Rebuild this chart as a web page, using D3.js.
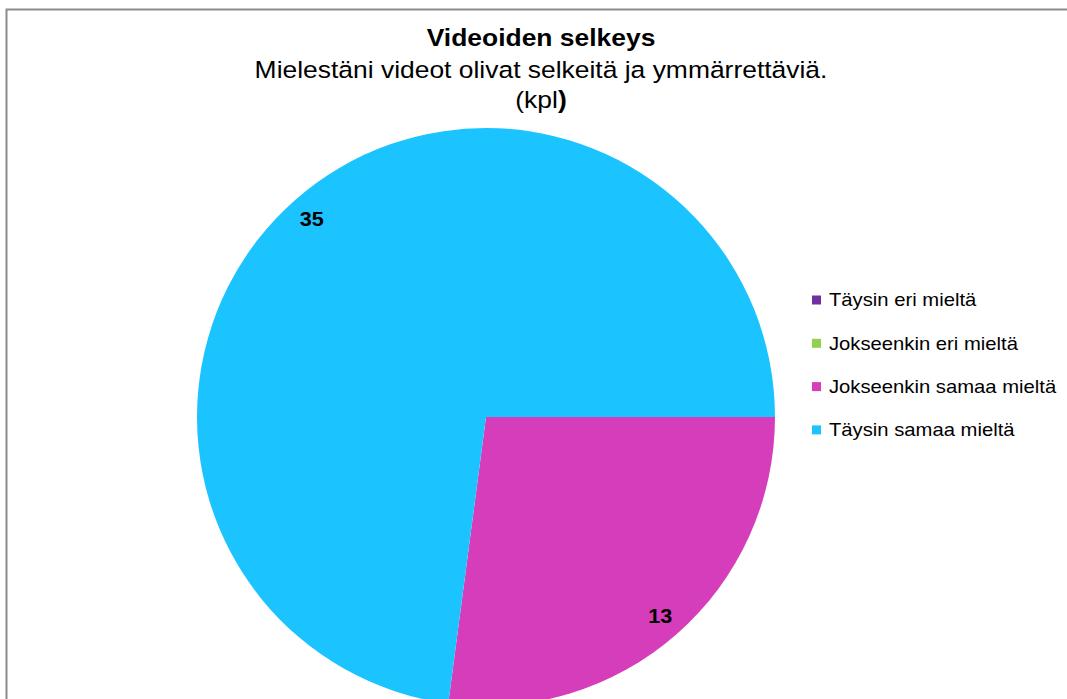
<!DOCTYPE html>
<html>
<head>
<meta charset="utf-8">
<script src="https://cdn.jsdelivr.net/npm/d3@7"></script>
<style>
  body { margin: 0; background: #fff; }
  svg { display: block; font-family: "Liberation Sans", Arial, sans-serif; }
</style>
</head>
<body>
<div id="chart"></div>
<script>
const categories = ['Täysin eri mieltä', 'Jokseenkin eri mieltä', 'Jokseenkin samaa mieltä', 'Täysin samaa mieltä'];
const values = [0, 0, 13, 35];
const colors = ['#7030A0', '#92D050', '#D63DBA', '#1CC4FF'];

const width = 1067;
const height = 699;
const stretch = 1.125; // the original text is a bit wider than it is tall

const svg = d3.select('#chart')
    .append('svg')
    .attr('width', width)
    .attr('height', height);

// frame
svg.append('path')
    .attr('d', `M6.5,${height} L6.5,9.5 L${width},9.5`)
    .attr('fill', 'none')
    .attr('stroke', '#8c8c8c')
    .attr('stroke-width', 2);

function addText(parent, x, y, size, bold, sx) {
    return parent.append('g')
        .attr('transform', `translate(${x},${y}) scale(${sx || stretch},1)`)
        .append('text')
        .attr('font-size', size)
        .attr('font-weight', bold ? 'bold' : 'normal');
}

// titles
addText(svg, 541, 46, 23.5, true)
    .attr('text-anchor', 'middle')
    .text('Videoiden selkeys');
addText(svg, 541, 78, 23.5, false)
    .attr('text-anchor', 'middle')
    .text('Mielestäni videot olivat selkeitä ja ymmärrettäviä.');
const kpl = addText(svg, 541, 108, 23.5, false)
    .attr('text-anchor', 'middle');
kpl.append('tspan').text('(kpl');
kpl.append('tspan').attr('font-weight', 'bold').text(')');

// pie
const cx = 486, cy = 417, r = 289;
const data = categories.map((c, i) => ({ name: c, value: values[i], color: colors[i] }));

const pie = d3.pie()
    .sort(null)
    .value(d => d.value)
    .startAngle(Math.PI / 2)
    .endAngle(Math.PI / 2 + 2 * Math.PI);

const arc = d3.arc().innerRadius(0).outerRadius(r);
const labelArc = d3.arc().innerRadius(r * 0.915).outerRadius(r * 0.915);

const g = svg.append('g').attr('transform', `translate(${cx},${cy})`);
const arcs = pie(data).filter(d => d.data.value > 0);

g.selectAll('path.slice')
    .data(arcs)
    .enter().append('path')
    .attr('class', 'slice')
    .attr('d', arc)
    .attr('fill', d => d.data.color);

arcs.forEach(d => {
    const [lx, ly] = labelArc.centroid(d);
    addText(g, lx, ly, 21, true, 1.03)
        .attr('text-anchor', 'middle')
        .attr('dy', '0.36em')
        .text(d.data.value);
});

// legend
const legend = svg.append('g').attr('transform', 'translate(812,300)');
data.forEach((d, i) => {
    const yy = i * 43.3;
    legend.append('rect')
        .attr('x', 0).attr('y', yy - 4.5)
        .attr('width', 9).attr('height', 9)
        .attr('fill', d.color);
    addText(legend, 17, yy, 18, false)
        .attr('dy', '0.35em')
        .text(d.name);
});
</script>
</body>
</html>
